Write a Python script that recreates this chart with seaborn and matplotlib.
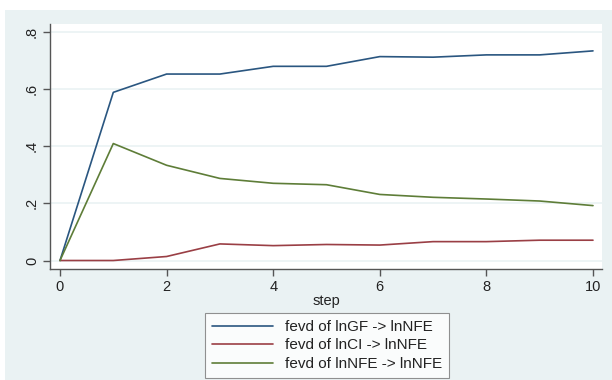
import matplotlib
matplotlib.use("Agg")
import matplotlib.pyplot as plt
import seaborn as sns
import pandas as pd
from matplotlib.patches import Rectangle

steps = [0, 1, 2, 3, 4, 5, 6, 7, 8, 9, 10]
fevd_lnGF = [0, 0.588, 0.652, 0.652, 0.679, 0.679, 0.713, 0.711, 0.719, 0.719, 0.733]
fevd_lnCI = [0, 0.0, 0.014, 0.058, 0.052, 0.056, 0.054, 0.066, 0.066, 0.071, 0.071]
fevd_lnNFE = [0, 0.409, 0.333, 0.287, 0.270, 0.265, 0.231, 0.221, 0.215, 0.208, 0.192]
series_names = ["fevd of lnGF -> lnNFE", "fevd of lnCI -> lnNFE", "fevd of lnNFE -> lnNFE"]
x_ticks = [0, 2, 4, 6, 8, 10]
y_ticks = [0, 0.2, 0.4, 0.6, 0.8]
y_tick_labels = ["0", ".2", ".4", ".6", ".8"]

df = pd.DataFrame({
    "step": steps * 3,
    "value": fevd_lnGF + fevd_lnCI + fevd_lnNFE,
    "series": [series_names[0]] * len(steps) + [series_names[1]] * len(steps) + [series_names[2]] * len(steps),
})

sns.set_theme(style="white")
plt.rcParams["font.family"] = ["Liberation Sans", "DejaVu Sans"]

W, H = 612, 380
fig = plt.figure(figsize=(W / 100, H / 100), dpi=100)
fig.patch.set_facecolor("white")
bg = "#EAF2F3"
fig.patches.append(Rectangle((5 / W, 0), 1 - 5 / W, 1 - 10 / H, transform=fig.transFigure,
                             facecolor=bg, edgecolor="none", zorder=-10))

ax = fig.add_axes([50 / W, 1 - 269 / H, (602 - 50) / W, (269 - 24) / H])
ax.set_facecolor("white")

palette = {series_names[0]: "#2A5680", series_names[1]: "#9A3F45", series_names[2]: "#5E7D38"}
sns.lineplot(data=df, x="step", y="value", hue="series", palette=palette, ax=ax,
             linewidth=1.2, legend=True, zorder=3)

ax.set_xlim(-0.1876, 10.169)
ax.set_ylim(-0.0297, 0.827)
ax.set_xticks(x_ticks)
ax.set_xticklabels([str(t) for t in x_ticks])
ax.set_yticks(y_ticks)
ax.set_yticklabels(y_tick_labels, rotation=90, va="center")
for yv in y_ticks:
    ax.axhline(yv, color=bg, linewidth=1.2, zorder=1)

for s in ["top", "right"]:
    ax.spines[s].set_visible(False)
for s in ["left", "bottom"]:
    ax.spines[s].set_color("#555555")
    ax.spines[s].set_linewidth(1.0)
ax.tick_params(axis="both", direction="out", length=5, width=1, color="#555555",
               labelsize=10.5, labelcolor="#222222", bottom=True, left=True, pad=3)
ax.set_xlabel("step", fontsize=10.5, color="#222222", labelpad=0)
ax.set_ylabel("")

leg = ax.legend(loc="upper center", bbox_to_anchor=((327 - 50) / 552, (269 - 313) / 245),
                frameon=True, fancybox=False, fontsize=11, handlelength=4.0, handletextpad=0.8,
                borderpad=0.45, labelspacing=0.3, borderaxespad=0, edgecolor="#777777")
leg.get_frame().set_linewidth(0.8)
leg.get_frame().set_facecolor("white")
for t in leg.get_texts():
    t.set_color("#222222")

fig.savefig("out.png", dpi=100, facecolor=fig.get_facecolor())
